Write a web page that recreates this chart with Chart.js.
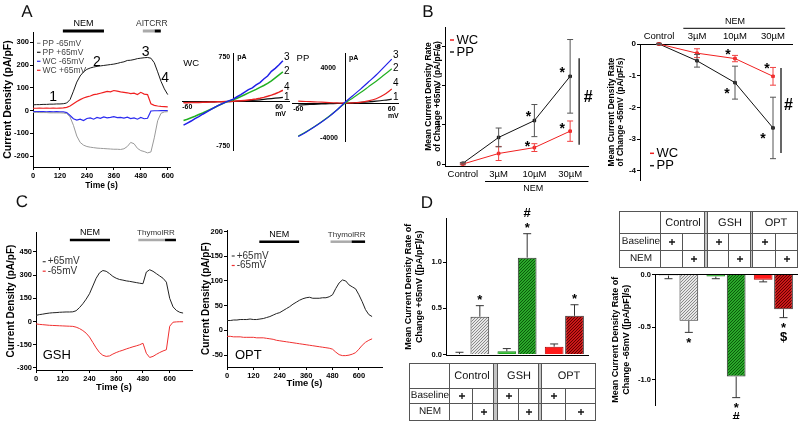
<!DOCTYPE html>
<html>
<head>
<meta charset="utf-8">
<title>NEM current density</title>
<script src="https://cdn.jsdelivr.net/npm/chart.js@4.4.1/dist/chart.umd.min.js"></script>
<style>
  body { margin: 0; background: #fff; }
  #fig { position: relative; width: 798px; height: 421px; overflow: hidden; background: #fff;
         font-family: "Liberation Sans", Arial, sans-serif; color: #000;
         -webkit-font-smoothing: antialiased; text-rendering: geometricPrecision; }
  #fig canvas { position: absolute; }
</style>
</head>
<body>
<div id="fig">
  <canvas id="cA"></canvas>
  <canvas id="cWC"></canvas>
  <canvas id="cPP"></canvas>
  <canvas id="cB1"></canvas>
  <canvas id="cB2"></canvas>
  <canvas id="cC1"></canvas>
  <canvas id="cC2"></canvas>
  <canvas id="cD1"></canvas>
  <canvas id="cD2"></canvas>
</div>
<script>
// Panel A - time course (s) at -65 / +65 mV (pA/pF)
const tA = [0,15,30,45,60,75,90,105,120,135,150,165,180,195,210,225,240,255,270,285,300,315,330,345,360,375,390,405,420,435,450,465,480,495,510,525,540,555,570,585,600];
const ppPos = [25,26,26,27,27,28,28,29,29,30,33,48,85,125,152,170,181,187,191,194,196,198,200,202,204,207,211,214,220,221,224,228,230,232,233,230,210,170,128,95,70];
const ppNeg = [-8,-8,-9,-9,-9,-10,-10,-10,-10,-11,-13,-28,-65,-112,-140,-152,-158,-161,-163,-165,-166,-167,-168,-169,-170,-170,-171,-168,-158,-140,-146,-166,-176,-180,-186,-182,-120,-45,-12,-6,-5];
const wcPos = [10,10,11,10,11,10,11,10,11,12,14,20,30,40,48,55,60,64,70,72,76,80,84,82,88,85,82,80,78,74,76,70,80,72,70,30,23,20,18,17,16];
const wcNeg = [-5,-5,-5,-5,-6,-5,-6,-5,-6,-6,-9,-22,-36,-42,-38,-44,-35,-32,-38,-30,-34,-28,-32,-30,-27,-31,-30,-33,-29,-35,-32,-38,-30,-36,-34,-2,-1,-1,0,0,0];
const tickTimeA = [0,120,240,360,480,600];
const tickCurA = [-200,-100,0,100,200,300];

// Panel A - I-V ramps (mV, pA) at time points 1-4
const mvWC = [-65,-60,-55,-50,-45,-40,-35,-30,-25,-20,-15,-10,-5,0,5,10,15,20,25,30,35,40,45,50,55,60,65];
const wcIV1 = [-12,-11,-10,-9,-8,-7,-6,-5,-4,-3,-2,-1,0,2,4,7,10,14,18,23,29,36,43,50,57,63,70];
const wcIV2 = [-320,-300,-275,-250,-220,-195,-165,-135,-105,-72,-42,-15,10,30,55,85,115,145,175,205,240,270,305,350,400,450,500];
const wcIV3 = [-400,-365,-330,-290,-255,-215,-180,-140,-105,-70,-40,-10,15,40,80,115,160,200,230,280,320,380,430,510,560,620,690];
const wcIV4 = [-22,-20,-18,-17,-15,-13,-12,-10,-8,-6,-4,-2,0,3,7,12,18,25,33,43,55,70,88,108,130,158,190];
const mvPP = [-60,-50,-40,-30,-20,-10,0,10,20,30,40,50,60];
const ppIV1 = [-220,-170,-130,-90,-60,-30,0,40,90,150,230,330,450];
const ppIV2 = [-3750,-3250,-2700,-2100,-1450,-750,0,600,1200,1850,2500,3200,3900];
const ppIV3 = [-3800,-3300,-2750,-2150,-1500,-750,100,850,1600,2400,3200,4100,5000];
const ppIV4 = [220,190,150,110,70,30,0,40,100,250,500,950,1600];

// Panel B - rate of change vs NEM dose (pA/pF/s)
const doses = ['Control','3µM','10µM','30µM'];
const bWCpos = [0,0.27,0.42,0.84];
const bWCposErr = [0.02,0.18,0.1,0.26];
const bPPpos = [0.02,0.68,1.11,2.24];
const bPPposErr = [0.02,0.24,0.41,0.94];
const bWCneg = [0,-0.29,-0.46,-1.02];
const bWCnegErr = [0.02,0.14,0.1,0.28];
const bPPneg = [0,-0.53,-1.22,-2.65];
const bPPnegErr = [0.02,0.2,0.52,0.97];
const tickRateB1 = [0,1,2,3];
const tickRateB2 = [-4,-3,-2,-1,0];

// Panel C - GSH / OPT time course
const tC = [0,15,30,45,60,75,90,105,120,135,150,165,180,195,210,225,240,255,270,285,300,315,330,345,360,375,390,405,420,435,450,465,480,495,510,525,540,555,570,585,600,615,630,645,660];
const gshPos = [40,45,48,52,55,57,58,60,61,62,62,63,70,90,115,145,180,230,280,315,330,325,310,292,280,272,268,263,260,256,252,248,245,320,335,325,310,295,280,255,150,95,72,60,55];
const gshNeg = [-15,-18,-20,-22,-24,-25,-26,-27,-28,-29,-30,-31,-36,-45,-58,-75,-100,-135,-170,-200,-218,-225,-222,-210,-200,-192,-185,-177,-170,-163,-157,-150,-140,-205,-232,-225,-212,-200,-190,-182,-30,-4,-2,-1,-1];
const optPos = [20,20,21,21,22,22,22,23,22,22,23,24,26,28,31,34,36,40,44,48,53,57,61,64,66,67,65,65,65,66,66,68,72,85,96,102,100,92,88,84,72,58,42,32,28];
const optNeg = [-12,-12,-13,-13,-13,-14,-14,-14,-14,-15,-15,-15,-16,-17,-18,-20,-21,-22,-23,-24,-25,-26,-27,-28,-29,-30,-31,-32,-33,-34,-35,-36,-38,-44,-49,-51,-51,-50,-48,-45,-38,-30,-24,-20,-17];
const tickTimeC = [0,120,240,360,480,600];
const tickGSH = [-300,-150,0,150,300,450];
const tickOPT = [-50,0,50,100,150,200];

// Panel D - baseline vs NEM per pretreatment
const groups = ['Control','GSH','OPT'];
const conds = ['Baseline','NEM'];
const dBasePos = [0.005,0.035,0.085];
const dBasePosErr = [0.02,0.03,0.03];
const dNemPos = [0.41,1.05,0.42];
const dNemPosErr = [0.12,0.26,0.12];
const dBaseNeg = [-0.01,-0.02,-0.05];
const dBaseNegErr = [0.03,0.02,0.02];
const dNemNeg = [-0.44,-0.97,-0.33];
const dNemNegErr = [0.11,0.2,0.08];
const dPosMarks = [['*'],['*','#'],['*']];
const dNegMarks = [['*'],['*','#'],['*','$']];
const tickD1 = [0,0.5,1];
const tickD2 = [-1,-0.5,0];

const FAM = '"Liberation Sans", Arial, sans-serif';
Chart.defaults.font.family = FAM;
Chart.defaults.color = '#000';

const f = (size, weight, lh) => ({family: FAM, size: size, weight: weight || 'normal', lineHeight: lh || 1.2});
const cssFont = (size, bold) => (bold ? 'bold ' : '') + size + 'px ' + FAM;
const xy = (xs, ys) => xs.map((x, i) => ({x: x, y: ys[i]}));

// resolve a point: data coords (x,y) or pixel offsets from the chart area (xl, yt, yb)
function at(chart, p) {
    const a = chart.chartArea;
    let x = p.xl !== undefined ? a.left + p.xl : chart.scales.x.getPixelForValue(p.x);
    let y = p.yt !== undefined ? a.top + p.yt : (p.yb !== undefined ? a.bottom + p.yb : chart.scales.y.getPixelForValue(p.y));
    return [x + (p.dx || 0), y + (p.dy || 0)];
}

function glyph(ctx, s, x, y, size, bold, color) {
    ctx.font = cssFont(size, bold);
    ctx.fillStyle = color || '#000';
    ctx.textBaseline = 'middle';
    ctx.fillText(s, x, y + (s === '*' ? size * 0.22 : 0));
}

// labels, bars and legends drawn on top
const decor = {
    id: 'decor',
    afterDraw(chart) {
        const ctx = chart.ctx;
        (chart.canvas._items || []).forEach(it => {
            ctx.save();
            if (it.text !== undefined) {
                const p = at(chart, it.at);
                ctx.textAlign = it.align || 'center';
                glyph(ctx, it.text, p[0], p[1], it.size, it.bold, it.color);
            } else {
                const p1 = at(chart, it.from), p2 = at(chart, it.to);
                ctx.strokeStyle = it.color;
                ctx.lineWidth = it.w;
                ctx.beginPath();
                ctx.moveTo(p1[0], p1[1]);
                ctx.lineTo(p2[0], p2[1]);
                ctx.stroke();
            }
            ctx.restore();
        });
    }
};

// error bars (+ significance marks) from dataset.err
const errbars = {
    id: 'errbars',
    afterDatasetsDraw(chart) {
        const ctx = chart.ctx, ys = chart.scales.y;
        chart.data.datasets.forEach((ds, di) => {
            if (!ds.err) return;
            const meta = chart.getDatasetMeta(di);
            const dir = ds.errDir || 0, cap = ds.errCap || 3;
            meta.data.forEach((el, i) => {
                const v = ds.data[i], e = ds.err[i];
                const yHi = ys.getPixelForValue(dir < 0 ? v : v + e);
                const yLo = ys.getPixelForValue(dir > 0 ? v : v - e);
                ctx.save();
                ctx.strokeStyle = ds.errColor || '#333';
                ctx.lineWidth = 1;
                ctx.beginPath();
                ctx.moveTo(el.x, yHi); ctx.lineTo(el.x, yLo);
                if (dir >= 0) { ctx.moveTo(el.x - cap, yHi); ctx.lineTo(el.x + cap, yHi); }
                if (dir <= 0) { ctx.moveTo(el.x - cap, yLo); ctx.lineTo(el.x + cap, yLo); }
                ctx.stroke();
                ctx.textAlign = 'center';
                (ds.marks && ds.marks[i] || []).forEach((m, k) => {
                    const y = dir < 0 ? yLo + 8 + 12 * k : yHi - 8 - 12 * k;
                    glyph(ctx, m, el.x, y, 13, true);
                });
                ctx.restore();
            });
        });
    }
};
Chart.register(decor, errbars);

const T = (text, p, size, o) => Object.assign({text: text, at: p, size: size}, o || {});
const L = (from, to, color, w) => ({from: from, to: to, color: color || '#000', w: w || 1});

function valAxis(o) {
    return {
        type: 'linear', min: o.min, max: o.max, position: o.pos,
        afterBuildTicks: s => { s.ticks = o.ticks.map(v => ({value: v})); },
        afterFit: s => { if (s.isHorizontal()) s.height = o.size; else s.width = o.size; },
        grid: {display: true, drawOnChartArea: false, drawTicks: true, tickLength: 3, color: '#000'},
        border: {display: true, color: '#000', width: 1},
        ticks: {font: f(o.fs || 7.5, 'bold'), color: '#000', padding: 1, maxRotation: 0, autoSkip: false,
                callback: o.fmt || (v => String(v))},
        title: o.title ? {display: true, text: o.title, font: o.tf, color: '#000', padding: o.tp} : {display: false}
    };
}

function catAxis(o) {
    return {
        type: 'category', offset: true, position: o.pos || 'bottom',
        afterFit: s => { s.height = o.size; },
        grid: {display: false, drawTicks: false, tickLength: 0},
        border: {display: true, color: '#000', width: 1},
        ticks: {display: !!o.labels, font: f(o.fs || 9), color: '#000', padding: o.pad === undefined ? 3 : o.pad,
                maxRotation: 0, autoSkip: false}
    };
}

function crossAxis(min, max, horiz) {
    return {
        type: 'linear', min: min, max: max,
        position: horiz ? {y: 0} : {x: 0},
        afterFit: s => { if (horiz) s.height = 0; else s.width = 0; },
        grid: {display: false, drawTicks: false},
        border: {display: true, color: '#000', width: 1},
        ticks: {display: false}
    };
}

function opts(pad, scales) {
    return {
        responsive: false, animation: false, devicePixelRatio: 1, events: [],
        layout: {padding: pad},
        plugins: {legend: {display: false}, tooltip: {enabled: false}},
        elements: {point: {radius: 0}, line: {borderWidth: 1, tension: 0}},
        scales: scales
    };
}

const trace = (xs, ys, color, w, tension) => ({data: xy(xs, ys), borderColor: color, borderWidth: w || 1,
    pointRadius: 0, fill: false, tension: tension || 0});

function makeChart(id, box, cfg, items) {
    const c = document.getElementById(id);
    c.width = box[2]; c.height = box[3];
    c.style.left = box[0] + 'px'; c.style.top = box[1] + 'px';
    c._items = items || [];
    return new Chart(c, cfg);
}

function pattern(bg, fg) {
    const c = document.createElement('canvas');
    c.width = 3; c.height = 3;
    const g = c.getContext('2d');
    g.fillStyle = bg; g.fillRect(0, 0, 3, 3);
    g.fillStyle = fg;
    g.fillRect(0, 2, 1, 1); g.fillRect(1, 1, 1, 1); g.fillRect(2, 0, 1, 1);
    return g.createPattern(c, 'repeat');
}

// ---------- Panel A: time course
const legA = [['PP -65mV', '#9a9a9a'], ['PP +65mV', '#1a1a1a'], ['WC -65mV', '#2b2bf0'], ['WC +65mV', '#f02020']];
const itemsA = [
    L({x: 133, yt: -1}, {x: 316, yt: -1}, '#000', 3),
    T('NEM', {x: 225, yt: -8}, 9),
    L({x: 489, yt: -1}, {x: 542, yt: -1}, '#aaa', 3),
    L({x: 542, yt: -1}, {x: 569, yt: -1}, '#000', 3),
    T('AITCRR', {x: 529, yt: -8}, 8.5, {color: '#333'}),
    T('1', {x: 90, y: 61}, 14),
    T('2', {x: 284, y: 214}, 14),
    T('3', {x: 502, y: 258}, 14),
    T('4', {x: 588, y: 141}, 14)
];
legA.forEach((l, i) => {
    const yt = 11.3 + i * 9;
    itemsA.push(L({xl: 4, yt: yt}, {xl: 7.5, yt: yt}, l[1], 1.2));
    itemsA.push(T(l[0], {xl: 9.5, yt: yt}, 8.5, {align: 'left', color: '#444'}));
});
makeChart('cA', [0, 18, 178, 177], {
    type: 'line',
    data: {datasets: [
        trace(tA, ppNeg, '#9a9a9a'), trace(tA, ppPos, '#1a1a1a'),
        trace(tA, wcNeg, '#2b2bf0', 1.2), trace(tA, wcPos, '#f02020', 1.2)
    ]},
    options: opts({top: 14, right: 8, left: 0, bottom: 0}, {
        x: valAxis({min: 0, max: 610, ticks: tickTimeA, size: 28, title: 'Time (s)', tf: f(8.5, 'bold'), tp: {top: 0, bottom: 4}}),
        y: valAxis({min: -248, max: 345, ticks: tickCurA, size: 33, title: 'Current Density (pA/pF)', tf: f(10.5, 'bold'), tp: {top: 2, bottom: 0}})
    })
}, itemsA);

// ---------- Panel A: I-V curves
const itemsWC = [
    T('WC', {x: -55, y: 650}, 9.5),
    T('750', {x: 0, y: 750, dx: -3}, 7, {bold: true, align: 'right'}),
    T('pA', {x: 0, y: 750, dx: 4}, 7, {bold: true, align: 'left'}),
    T('-750', {x: 0, y: -750, dx: -3}, 7, {bold: true, align: 'right'}),
    T('-60', {x: -60, y: 0, dy: 6}, 7, {bold: true}),
    T('60', {x: 60, y: 0, dy: 6}, 7, {bold: true}),
    T('mV', {x: 62, y: 0, dy: 13}, 7, {bold: true}),
    T('3', {x: 65, y: 752, dx: 4}, 10),
    T('2', {x: 65, y: 515, dx: 4}, 10),
    T('4', {x: 65, y: 245, dx: 4}, 10),
    T('1', {x: 65, y: 76, dx: 4}, 10)
];
makeChart('cWC', [178, 48, 116, 106], {
    type: 'line',
    data: {datasets: [
        trace(mvWC, wcIV3, '#2020e8', 1.5), trace(mvWC, wcIV2, '#22b022', 1.5),
        trace(mvWC, wcIV4, '#e82020', 1.5), trace(mvWC, wcIV1, '#111', 1.3)
    ]},
    options: opts({left: 4, top: 5, right: 5, bottom: 4}, {x: crossAxis(-67, 73, true), y: crossAxis(-820, 820, false)})
}, itemsWC);

const itemsPP = [
    T('PP', {x: -54, y: 5136}, 9.5),
    T('4000', {x: 0, y: 4000, dx: -9}, 7, {bold: true, align: 'right'}),
    T('pA', {x: 0, y: 5136, dx: 4}, 7, {bold: true, align: 'left'}),
    T('-4000', {x: 0, y: -4000, dx: -7}, 7, {bold: true, align: 'right'}),
    T('-60', {x: -60, y: 0, dy: 6}, 7, {bold: true}),
    T('60', {x: 60, y: 0, dy: 6}, 7, {bold: true}),
    T('mV', {x: 62, y: 0, dy: 13}, 7, {bold: true}),
    T('3', {x: 65, y: 5477}, 10),
    T('2', {x: 65, y: 4000}, 10),
    T('4', {x: 65, y: 2295}, 10),
    T('1', {x: 65, y: 705}, 10)
];
makeChart('cPP', [288, 48, 114, 97], {
    type: 'line',
    data: {datasets: [
        trace(mvPP, ppIV3, '#2020e8', 1.2, 0.3), trace(mvPP, ppIV2, '#22b022', 1.2, 0.3),
        trace(mvPP, ppIV4, '#e82020', 1.2, 0.3), trace(mvPP, ppIV1, '#111', 1.2, 0.3)
    ]},
    options: opts({left: 4, top: 5, right: 4, bottom: 4}, {x: crossAxis(-68, 68, true), y: crossAxis(-4300, 5700, false)})
}, itemsPP);

// ---------- Panel B
const star = (x, y, dx, dy) => T('*', {x: x, y: y, dx: dx, dy: dy}, 14, {bold: true});
const rateSet = (vals, err, color, errColor) => ({data: vals, err: err, errColor: errColor, borderColor: color,
    backgroundColor: color, pointStyle: 'rect', pointRadius: 1.8, borderWidth: 1, clip: false});

const itemsB1 = [
    L({xl: 5, yt: 13}, {xl: 9, yt: 13}, '#f02020', 1.5), T('WC', {xl: 11.5, yt: 13}, 13, {align: 'left'}),
    L({xl: 5, yt: 25}, {xl: 9, yt: 25}, '#222', 1.5), T('PP', {xl: 11.5, yt: 25}, 13, {align: 'left'}),
    star(2, 1.11, -6, -7), star(3, 2.24, -8, -6), star(2, 0.42, -7, -4), star(3, 0.84, -8, -5),
    L({x: 3, y: 2.7, dx: 9}, {x: 3, y: 0.49, dx: 9}, '#000', 1.2),
    T('#', {x: 3, y: 1.7, dx: 18}, 16, {bold: true}),
    L({x: 0.62, yb: 15.5}, {x: 3.51, yb: 15.5}, '#000', 1),
    T('NEM', {x: 1.97, yb: 22.5}, 9)
];
makeChart('cB1', [400, 19, 200, 177], {
    type: 'line',
    data: {labels: doses, datasets: [
        rateSet(bWCpos, bWCposErr, '#f02020', '#f04040'),
        rateSet(bPPpos, bPPposErr, '#111', '#555')
    ]},
    options: opts({top: 8, right: 12, left: 0, bottom: 0}, {
        x: catAxis({size: 30, labels: true, fs: 9.5, pad: 3}),
        y: valAxis({min: -0.05, max: 3.5, ticks: tickRateB1, size: 45, fs: 8,
            title: ['Mean Current Density Rate', 'of Change +65mV (pA/pF/s)'], tf: f(8.5, 'bold', 1.1), tp: {top: 23.6, bottom: 0}})
    })
}, itemsB1);

const itemsB2 = [
    L({xl: 10, yt: 109.3}, {xl: 14, yt: 109.3}, '#f02020', 1.5), T('WC', {xl: 16.5, yt: 109.3}, 13, {align: 'left'}),
    L({xl: 10, yt: 121.7}, {xl: 14, yt: 121.7}, '#222', 1.5), T('PP', {xl: 16.5, yt: 121.7}, 13, {align: 'left'}),
    star(2, -0.46, -7, -7), star(3, -1.02, -6, -10), star(2, -1.22, -8, 8), star(3, -2.65, -10, 8),
    L({x: 3, y: -0.76, dx: 8}, {x: 3, y: -3.44, dx: 8}, '#000', 1.2),
    T('#', {x: 3, y: -1.93, dx: 15.5}, 16, {bold: true}),
    L({x: 0.64, yt: -15.7}, {x: 3.32, yt: -15.7}, '#000', 1),
    T('NEM', {x: 2.0, yt: -22.3}, 9)
];
makeChart('cB2', [602, 14, 196, 172], {
    type: 'line',
    data: {labels: doses, datasets: [
        rateSet(bWCneg, bWCnegErr, '#f02020', '#f04040'),
        rateSet(bPPneg, bPPnegErr, '#111', '#555')
    ]},
    options: opts({top: 0, right: 6, left: 0, bottom: 4}, {
        x: catAxis({pos: 'top', size: 30, labels: true, fs: 9.5, pad: 2}),
        y: valAxis({min: -4.3, max: 0, ticks: tickRateB2, size: 38, fs: 8,
            title: ['Mean Current Density Rate', 'of Change -65mV (pA/pF/s)'], tf: f(8.5, 'bold', 1.1), tp: {top: 5, bottom: 0}})
    })
}, itemsB2);

// ---------- Panel C
function traceLabels(nem, thy, legY, legX, name, nameAt) {
    return [
        L({x: nem[0], yt: nem[2]}, {x: nem[1], yt: nem[2]}, '#000', 2.5),
        T('NEM', {x: (nem[0] + nem[1]) / 2, yt: nem[2] - 7}, 9),
        L({x: thy[0], yt: nem[2]}, {x: thy[1], yt: nem[2]}, '#aaa', 2.5),
        L({x: thy[1], yt: nem[2]}, {x: thy[2], yt: nem[2]}, '#000', 2.5),
        T('ThymolRR', {x: (thy[0] + thy[2]) / 2 - 5, yt: nem[2] - 7}, 8, {color: '#333'}),
        L({xl: legX, yt: legY}, {xl: legX + 3, yt: legY}, '#444', 1.2),
        T('+65mV', {xl: legX + 5, yt: legY}, 10, {align: 'left', color: '#333'}),
        L({xl: legX, yt: legY + 9.5}, {xl: legX + 3, yt: legY + 9.5}, '#f03030', 1.2),
        T('-65mV', {xl: legX + 5, yt: legY + 9.5}, 10, {align: 'left', color: '#333'}),
        T(name, nameAt, 13, {align: 'left'})
    ];
}
makeChart('cC1', [0, 226, 200, 174], {
    type: 'line',
    data: {datasets: [trace(tC, gshPos, '#222'), trace(tC, gshNeg, '#f03030')]},
    options: opts({top: 6, right: 8, left: 0, bottom: 0}, {
        x: valAxis({min: 0, max: 700, ticks: tickTimeC, size: 30, title: 'Time (s)', tf: f(9.4, 'bold'), tp: {top: 0, bottom: 7.4}}),
        y: valAxis({min: -313, max: 579, ticks: tickGSH, size: 36, title: 'Current Density (pA/pF)', tf: f(10, 'bold'), tp: {top: 5, bottom: 0}})
    })
}, traceLabels([152, 332, 8], [459, 579, 628], 29.7, 6.7, 'GSH', {xl: 6.7, yb: -15}));

makeChart('cC2', [200, 224, 192, 173], {
    type: 'line',
    data: {datasets: [trace(tC, optPos, '#222'), trace(tC, optNeg, '#f03030')]},
    options: opts({top: 6, right: 10, left: 0, bottom: 0}, {
        x: valAxis({min: 0, max: 705, ticks: tickTimeC, size: 30, title: 'Time (s)', tf: f(9.4, 'bold'), tp: {top: 0, bottom: 8}}),
        y: valAxis({min: -74, max: 203, ticks: tickOPT, size: 27, title: 'Current Density (pA/pF)', tf: f(10, 'bold'), tp: {top: 0, bottom: 0}})
    })
}, traceLabels([147, 328, 11.7], [471, 567, 628], 26, 4.7, 'OPT', {xl: 8, yb: -12}));

// ---------- Panel D
const patGrey = pattern('#e6e6e6', '#8a8a8a');
const patGreen = pattern('#2aa82a', '#0b5a0b');
const patRed = pattern('#c81818', '#600000');
const barSet = (vals, err, dir, marks, bg, border) => ({data: vals, err: err, errDir: dir, errCap: 4, marks: marks,
    errColor: '#333', backgroundColor: bg, borderColor: border, borderWidth: 1,
    categoryPercentage: 0.86, barPercentage: 0.92});

makeChart('cD1', [400, 204, 196, 157], {
    type: 'bar',
    data: {labels: groups, datasets: [
        barSet(dBasePos, dBasePosErr, 1, null, ['#ffffff', '#22b022', '#ff1a1a'], ['#444', '#168016', '#b00000']),
        barSet(dNemPos, dNemPosErr, 1, dPosMarks, [patGrey, patGreen, patRed], '#333')
    ]},
    options: opts({top: 14, right: 8, left: 0, bottom: 0}, {
        x: catAxis({size: 4}),
        y: valAxis({min: -0.01, max: 1.48, ticks: tickD1, size: 46, fs: 7.5, fmt: v => v.toFixed(1),
            title: ['Mean Current Density Rate of', 'Change +65mV ([pA/pF]/s)'], tf: f(9, 'bold'), tp: {top: 2.9, bottom: 0}})
    })
});

makeChart('cD2', [610, 269, 188, 150], {
    type: 'bar',
    data: {labels: groups, datasets: [
        barSet(dBaseNeg, dBaseNegErr, -1, null, ['#ffffff', '#22b022', '#ff1a1a'], ['#444', '#168016', '#b00000']),
        barSet(dNemNeg, dNemNegErr, -1, dNegMarks, [patGrey, patGreen, patRed], '#333')
    ]},
    options: opts({top: 4, right: 1, left: 0, bottom: 14}, {
        x: catAxis({pos: 'top', size: 0}),
        y: valAxis({min: -1.24, max: 0, ticks: tickD2, size: 45, fs: 7.5, fmt: v => v.toFixed(1),
            title: ['Mean Current Density Rate of', 'Change -65mV ([pA/pF]/s)'], tf: f(9, 'bold'), tp: {top: 0, bottom: 0}})
    })
});

// ---------- HTML text: panel letters and condition tables
const fig = document.getElementById('fig');
function box(css, text) {
    const d = document.createElement('div');
    d.style.cssText = 'position:absolute;' + css;
    if (text !== undefined) d.textContent = text;
    fig.appendChild(d);
}
function label(text, cx, cy, size, bold) {
    box('left:' + cx + 'px;top:' + cy + 'px;transform:translate(-50%,-50%);font-size:' + size + 'px;line-height:1;white-space:nowrap;' +
        'will-change:transform;color:#111;' + (bold ? 'font-weight:bold;' : ''), text);
}
function table(x0, xLab, cols, rows) {
    const y0 = rows[0], y1 = rows[1], y2 = rows[2], y3 = rows[3];
    const x1 = cols[cols.length - 1][2];
    const ln = '#555';
    cols.forEach((c, g) => {
        if (g < cols.length - 1) {
            const n = cols[g + 1][0];
            box('left:' + c[2] + 'px;top:' + y0 + 'px;width:' + (n - c[2]) + 'px;height:' + (y3 - y0) + 'px;background:#c4c4c4');
        }
    });
    rows.forEach(y => box('left:' + x0 + 'px;top:' + y + 'px;width:' + (x1 - x0 + 1) + 'px;height:1px;background:' + ln));
    [x0, xLab].forEach(x => box('left:' + x + 'px;top:' + y0 + 'px;width:1px;height:' + (y3 - y0) + 'px;background:' + ln));
    cols.forEach((c, g) => {
        box('left:' + c[0] + 'px;top:' + y0 + 'px;width:1px;height:' + (y3 - y0) + 'px;background:' + ln);
        box('left:' + c[2] + 'px;top:' + y0 + 'px;width:1px;height:' + (y3 - y0) + 'px;background:' + ln);
        box('left:' + c[1] + 'px;top:' + y1 + 'px;width:1px;height:' + (y3 - y1) + 'px;background:' + ln);
        label(groups[g], (c[0] + c[2]) / 2 + 1, (y0 + y1) / 2 + 0.5, 11);
        label('+', (c[0] + c[1]) / 2 + 1, (y1 + y2) / 2 + 0.5, 12, true);
        label('+', (c[1] + c[2]) / 2 + 1, (y2 + y3) / 2 + 0.5, 12, true);
    });
    label(conds[0], (x0 + xLab) / 2 + 1, (y1 + y2) / 2 + 0.5, 10);
    label(conds[1], (x0 + xLab) / 2 + 1, (y2 + y3) / 2 + 0.5, 10);
}
table(409, 449, [[449, 472, 493], [497, 518, 538], [541, 565, 595]], [363, 388, 403, 420]);
table(619, 660, [[660, 682, 704], [707, 728, 750], [752, 775, 797]], [211, 233, 250, 267]);

label('A', 26.5, 11, 17);
label('B', 427.5, 10.5, 17);
label('C', 21.5, 201, 17);
label('D', 427, 201.5, 17);
</script>
</body>
</html>
